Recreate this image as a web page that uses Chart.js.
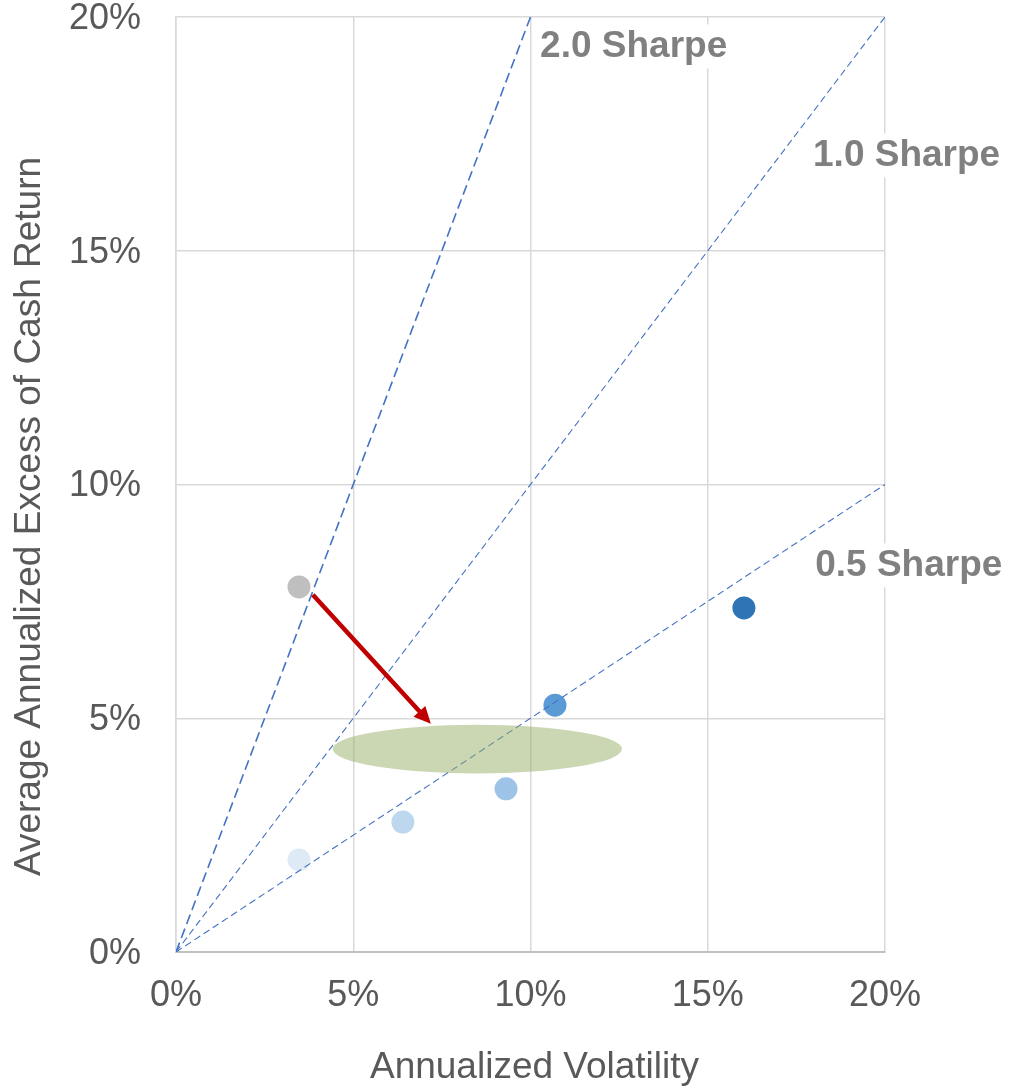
<!DOCTYPE html>
<html>
<head>
<meta charset="utf-8">
<script src="https://cdn.jsdelivr.net/npm/chart.js@4.4.1/dist/chart.umd.min.js"></script>
<style>
  html, body { margin: 0; padding: 0; background: #ffffff; }
  #wrap { width: 1016px; height: 1086px; }
</style>
</head>
<body>
<div id="wrap"><canvas id="chart" width="1016" height="1086"></canvas></div>
<script>
// Portfolio points: annualized volatility (%) vs. average annualized excess return (%)
const volatility = [3.47, 3.47, 6.40, 9.31, 10.69, 16.02];
const excessReturn = [7.81, 1.97, 2.78, 3.49, 5.28, 7.36];
const pointColors = ['#bfbfbf', '#deebf7', '#bdd7ee', '#9dc3e6', '#5b9bd5', '#2e75b6'];

// Constant-Sharpe reference lines (return = ratio x volatility)
const sharpeRatios = [2.0, 1.0, 0.5];
const sharpeLabels = ['2.0 Sharpe', '1.0 Sharpe', '0.5 Sharpe'];
const sharpeLabelAnchors = [[10.27, 19.37], [17.97, 17.04], [18.03, 8.27]];

// Axis range and ticks
const axisMax = 20;
const tickStep = 5;

// Target zone (ellipse: center and radii in %) and the move toward it (arrow from -> to)
const zoneCenter = [8.5, 4.34];
const zoneRadii = [4.08, 0.52];
const moveFrom = [3.86, 7.64];
const moveTo = [7.19, 4.88];

const FONT = '"Liberation Sans", Arial, sans-serif';

const sharpeDatasets = sharpeRatios.map((s, i) => {
  const xEnd = Math.min(axisMax, axisMax / s);
  return {
    type: 'line',
    label: sharpeLabels[i],
    data: [{ x: 0, y: 0 }, { x: xEnd, y: s * xEnd }],
    borderColor: '#4472c4',
    borderWidth: i === 0 ? 1.6 : 1.1,
    borderDash: i === 0 ? [10, 5] : [7, 4],
    pointRadius: 0,
    fill: false,
    order: 0
  };
});

const pointsDataset = {
  type: 'scatter',
  label: 'Portfolios',
  data: volatility.map((v, i) => ({ x: v, y: excessReturn[i] })),
  backgroundColor: pointColors,
  borderColor: pointColors,
  borderWidth: 0,
  pointRadius: 11.5,
  pointHoverRadius: 11.5,
  order: 1
};

const overlayPlugin = {
  id: 'overlay',
  afterDatasetsDraw(chart) {
    const { ctx, scales: { x, y }, chartArea } = chart;
    ctx.save();

    // target zone
    const cx = x.getPixelForValue(zoneCenter[0]);
    const cy = y.getPixelForValue(zoneCenter[1]);
    const rx = x.getPixelForValue(zoneCenter[0] + zoneRadii[0]) - cx;
    const ry = cy - y.getPixelForValue(zoneCenter[1] + zoneRadii[1]);
    ctx.beginPath();
    ctx.ellipse(cx, cy, rx, ry, 0, 0, Math.PI * 2);
    ctx.fillStyle = 'rgba(152, 176, 104, 0.5)';
    ctx.fill();

    // arrow
    const x1 = x.getPixelForValue(moveFrom[0]);
    const y1 = y.getPixelForValue(moveFrom[1]);
    const x2 = x.getPixelForValue(moveTo[0]);
    const y2 = y.getPixelForValue(moveTo[1]);
    const ang = Math.atan2(y2 - y1, x2 - x1);
    const headLen = 17, headHalf = 8;
    const bx = x2 - headLen * Math.cos(ang);
    const by = y2 - headLen * Math.sin(ang);
    ctx.strokeStyle = '#c00000';
    ctx.fillStyle = '#c00000';
    ctx.lineWidth = 4.5;
    ctx.lineCap = 'butt';
    ctx.beginPath();
    ctx.moveTo(x1, y1);
    ctx.lineTo(bx + 2 * Math.cos(ang), by + 2 * Math.sin(ang));
    ctx.stroke();
    ctx.beginPath();
    ctx.moveTo(x2, y2);
    ctx.lineTo(bx + headHalf * Math.sin(ang), by - headHalf * Math.cos(ang));
    ctx.lineTo(bx - headHalf * Math.sin(ang), by + headHalf * Math.cos(ang));
    ctx.closePath();
    ctx.fill();

    // Sharpe line labels on white boxes
    ctx.font = 'bold 37px ' + FONT;
    ctx.textAlign = 'left';
    ctx.textBaseline = 'middle';
    sharpeLabels.forEach((t, i) => {
      const lx = x.getPixelForValue(sharpeLabelAnchors[i][0]);
      const ly = y.getPixelForValue(sharpeLabelAnchors[i][1]);
      const w = ctx.measureText(t).width;
      ctx.fillStyle = '#ffffff';
      ctx.fillRect(lx - 6, ly - 22, w + 12, 44);
      ctx.fillStyle = '#808080';
      ctx.fillText(t, lx, ly);
    });

    // axis titles
    ctx.font = '37px ' + FONT;
    ctx.fillStyle = '#595959';
    ctx.textAlign = 'center';
    ctx.fillText('Annualized Volatility', (chartArea.left + chartArea.right) / 2 + 4, chartArea.bottom + 116);
    ctx.translate(30, (chartArea.top + chartArea.bottom) / 2 + 32);
    ctx.rotate(-Math.PI / 2);
    ctx.fillText('Average Annualized Excess of Cash Return', 0, 0);
    ctx.restore();
  }
};

new Chart(document.getElementById('chart'), {
  type: 'scatter',
  data: { datasets: [...sharpeDatasets, pointsDataset] },
  options: {
    responsive: false,
    animation: false,
    devicePixelRatio: 1,
    layout: { padding: { top: 17, right: 131, bottom: 0, left: 0 }, autoPadding: false },
    plugins: { legend: { display: false }, tooltip: { enabled: false } },
    scales: {
      x: {
        type: 'linear',
        min: 0, max: axisMax,
        afterFit(s) { s.height = 134; s.paddingLeft = 0; s.paddingRight = 0; },
        grid: { color: '#d9d9d9', lineWidth: 1.5, drawTicks: false },
        border: { color: '#bfbfbf', width: 2 },
        ticks: {
          stepSize: tickStep,
          padding: 22,
          color: '#595959',
          font: { family: FONT, size: 36, lineHeight: 1.2 },
          callback: v => v + '%'
        }
      },
      y: {
        type: 'linear',
        min: 0, max: axisMax,
        afterFit(s) { s.width = 176; s.paddingTop = 0; s.paddingBottom = 0; },
        grid: { color: '#d9d9d9', lineWidth: 1.5, drawTicks: false },
        border: { color: '#d9d9d9', width: 1.5 },
        ticks: {
          stepSize: tickStep,
          padding: 35,
          labelOffset: 2,
          color: '#595959',
          font: { family: FONT, size: 36, lineHeight: 1.2 },
          callback: v => v + '%'
        }
      }
    }
  },
  plugins: [overlayPlugin]
});
</script>
</body>
</html>
